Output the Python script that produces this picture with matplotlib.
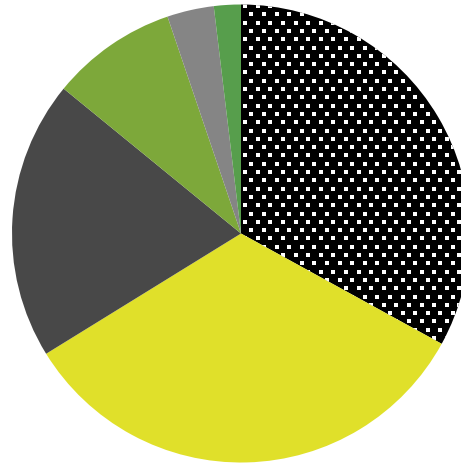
import numpy as np
import matplotlib.pyplot as plt

# parts du camembert, sens horaire depuis midi
labels = ["A", "B", "C", "D", "E", "F"]
values = [33.0, 33.2, 19.7, 8.9, 3.3, 1.9]
colors = ["#000000", "#e0e02a", "#484848", "#7da83a", "#858585", "#579e4c"]
dotted = [True, False, False, False, False, False]

W, H = 461, 463
fig = plt.figure(figsize=(W / 100, H / 100), dpi=100)

# centre ~ (241, 233.5) px depuis le haut, rayon ~229 px ; le bord droit est coupé
r = 229
cx, cy = 241, H - 233.5
ax = fig.add_axes([(cx - r) / W, (cy - r) / H, 2 * r / W, 2 * r / H])

wedges, _ = ax.pie(values, colors=colors, startangle=90, counterclock=False,
                   wedgeprops=dict(linewidth=0))

# motif de points blancs (grille en quinconce, ~12.6 px x 8.3 px)
dx, dy = 12.6 / r, 8.3 / r
ys = np.arange(-1.0, 1.0, dy)
px, py = [], []
for i, yv in enumerate(ys):
    xs = np.arange(-1.0 + (i % 2) * dx / 2, 1.0, dx)
    px.extend(xs)
    py.extend([yv] * len(xs))

for w, d in zip(wedges, dotted):
    if d:
        sc = ax.scatter(px, py, s=5, c="white", marker="s", linewidths=0, zorder=3)
        sc.set_clip_path(w)

ax.set_xlim(-1, 1)
ax.set_ylim(-1, 1)
ax.axis("off")

fig.savefig("out.png", dpi=100)
